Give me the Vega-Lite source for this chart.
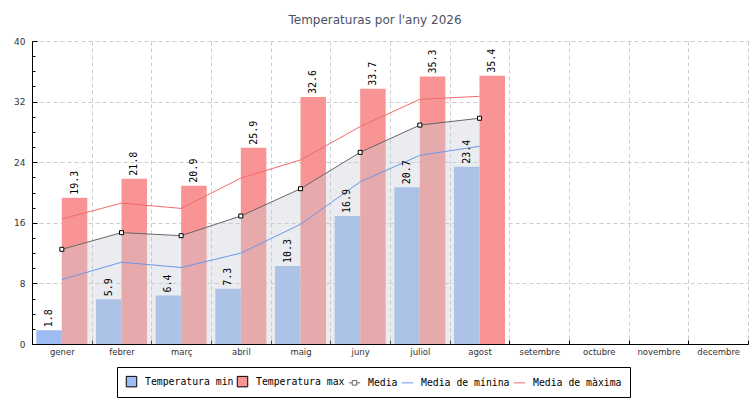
{
  "$schema": "https://vega.github.io/schema/vega-lite/v6.json",
  "description": "Temperatures mensuals: barres de mínima i màxima amb les mitjanes.",
  "width": 716,
  "height": 303,
  "autosize": {"type": "none"},
  "padding": {"left": 32, "top": 41, "right": 2, "bottom": 56},
  "background": "white",
  "title": {
    "text": "Temperaturas por l'any 2026",
    "font": "DejaVu Sans",
    "fontSize": 12,
    "fontWeight": "normal",
    "color": "#4b5166",
    "anchor": "middle",
    "offset": 10,
    "dx": -15
  },
  "config": {
    "view": {"stroke": null},
    "axis": {
      "labelFont": "DejaVu Sans",
      "labelFontSize": 9,
      "labelColor": "#333333",
      "domainColor": "black",
      "tickColor": "black",
      "gridColor": "#cccccc",
      "gridDash": [4, 3]
    }
  },
  "data": {
    "values": [
      {"mes": "gener", "serie": "Temperatura min", "valor": 1.8},
      {"mes": "febrer", "serie": "Temperatura min", "valor": 5.9},
      {"mes": "març", "serie": "Temperatura min", "valor": 6.4},
      {"mes": "abril", "serie": "Temperatura min", "valor": 7.3},
      {"mes": "maig", "serie": "Temperatura min", "valor": 10.3},
      {"mes": "juny", "serie": "Temperatura min", "valor": 16.9},
      {"mes": "juliol", "serie": "Temperatura min", "valor": 20.7},
      {"mes": "agost", "serie": "Temperatura min", "valor": 23.4},
      {"mes": "gener", "serie": "Temperatura max", "valor": 19.3},
      {"mes": "febrer", "serie": "Temperatura max", "valor": 21.8},
      {"mes": "març", "serie": "Temperatura max", "valor": 20.9},
      {"mes": "abril", "serie": "Temperatura max", "valor": 25.9},
      {"mes": "maig", "serie": "Temperatura max", "valor": 32.6},
      {"mes": "juny", "serie": "Temperatura max", "valor": 33.7},
      {"mes": "juliol", "serie": "Temperatura max", "valor": 35.3},
      {"mes": "agost", "serie": "Temperatura max", "valor": 35.4},
      {"mes": "gener", "serie": "Media", "valor": 12.5},
      {"mes": "febrer", "serie": "Media", "valor": 14.7},
      {"mes": "març", "serie": "Media", "valor": 14.3},
      {"mes": "abril", "serie": "Media", "valor": 16.9},
      {"mes": "maig", "serie": "Media", "valor": 20.5},
      {"mes": "juny", "serie": "Media", "valor": 25.3},
      {"mes": "juliol", "serie": "Media", "valor": 28.9},
      {"mes": "agost", "serie": "Media", "valor": 29.8},
      {"mes": "gener", "serie": "Media de mínina", "valor": 8.5},
      {"mes": "febrer", "serie": "Media de mínina", "valor": 10.8},
      {"mes": "març", "serie": "Media de mínina", "valor": 10.1},
      {"mes": "abril", "serie": "Media de mínina", "valor": 12.0},
      {"mes": "maig", "serie": "Media de mínina", "valor": 15.8},
      {"mes": "juny", "serie": "Media de mínina", "valor": 21.4},
      {"mes": "juliol", "serie": "Media de mínina", "valor": 24.9},
      {"mes": "agost", "serie": "Media de mínina", "valor": 26.1},
      {"mes": "gener", "serie": "Media de màxima", "valor": 16.5},
      {"mes": "febrer", "serie": "Media de màxima", "valor": 18.6},
      {"mes": "març", "serie": "Media de màxima", "valor": 17.9},
      {"mes": "abril", "serie": "Media de màxima", "valor": 21.9},
      {"mes": "maig", "serie": "Media de màxima", "valor": 24.3},
      {"mes": "juny", "serie": "Media de màxima", "valor": 28.7},
      {"mes": "juliol", "serie": "Media de màxima", "valor": 32.3},
      {"mes": "agost", "serie": "Media de màxima", "valor": 32.7}
    ]
  },
  "encoding": {
    "x": {
      "field": "mes",
      "type": "nominal",
      "sort": null,
      "scale": {
        "domain": ["gener", "febrer", "març", "abril", "maig", "juny", "juliol", "agost", "setembre", "octubre", "novembre", "decembre"],
        "paddingInner": 0,
        "paddingOuter": 0
      },
      "axis": {
        "title": null,
        "labelAngle": 0,
        "labelFontSize": 8.5,
        "tickBand": "extent",
        "grid": true,
        "tickSize": -4,
        "labelPadding": 7
      }
    },
    "y": {
      "field": "valor",
      "type": "quantitative",
      "scale": {"domain": [0, 40], "nice": false},
      "axis": {
        "title": null,
        "values": [0, 2, 4, 6, 8, 10, 12, 14, 16, 18, 20, 22, 24, 26, 28, 30, 32, 34, 36, 38, 40],
        "labelExpr": "datum.value % 8 === 0 ? datum.label : ''",
        "gridOpacity": {"condition": {"test": "datum.value % 8 === 0 && datum.value > 0", "value": 1}, "value": 0},
        "tickSize": {"condition": {"test": "datum.value % 8 === 0", "value": -5}, "value": -3},
        "labelPadding": 12
      }
    }
  },
  "layer": [
    {
      "transform": [{"filter": "datum.serie === 'Temperatura min' || datum.serie === 'Temperatura max'"}],
      "mark": {"type": "bar", "opacity": 1},
      "encoding": {
        "xOffset": {
          "field": "serie",
          "scale": {"domain": ["Temperatura min", "Temperatura max"], "paddingOuter": 0.17, "paddingInner": 0}
        },
        "fill": {
          "field": "serie",
          "type": "nominal",
          "scale": {
            "domain": ["Temperatura min", "Temperatura max", "Media", "Media de mínina", "Media de màxima"],
            "range": ["#9cbcf2", "#f99494", "white", "transparent", "transparent"]
          },
          "legend": {
            "title": null,
            "orient": "none",
            "legendX": 85,
            "legendY": 326,
            "direction": "horizontal",
            "columns": 5,
            "strokeColor": "black",
            "fillColor": "white",
            "padding": 8,
            "columnPadding": 1,
            "labelOffset": 7,
            "symbolSize": 110,
            "symbolStrokeWidth": 1,
            "labelFont": "DejaVu Sans Mono",
            "labelFontSize": 9.8,
            "labelColor": "black",
            "labelLimit": 300,
            "encoding": {
              "symbols": {
                "shape": {"value": {"expr": "datum.value === 'Media' ? 'M-1,0H-0.4M0.4,0H1M-0.4,-0.4H0.4V0.4H-0.4Z' : (datum.value === 'Temperatura min' || datum.value === 'Temperatura max' ? 'square' : 'stroke')"}},
                "size": {"value": {"expr": "datum.value === 'Temperatura min' || datum.value === 'Temperatura max' ? 110 : 130"}}
              }
            }
          }
        }
      }
    },
    {
      "transform": [{"filter": "datum.serie === 'Media'"}],
      "mark": {"type": "area", "color": "#c8ccd4", "opacity": 0.38},
      "encoding": {}
    },
    {
      "transform": [{"filter": "datum.serie === 'Media' || datum.serie === 'Media de mínina' || datum.serie === 'Media de màxima'"}],
      "mark": {"type": "line", "strokeWidth": 1},
      "encoding": {
        "stroke": {
          "field": "serie",
          "type": "nominal",
          "scale": {
            "domain": ["Temperatura min", "Temperatura max", "Media", "Media de mínina", "Media de màxima"],
            "range": ["black", "black", "#666666", "#6b98ec", "#f26b6b"]
          }
        }
      }
    },
    {
      "transform": [{"filter": "datum.serie === 'Media'"}],
      "mark": {"type": "point", "shape": "square", "filled": false, "fill": "white", "stroke": "black", "strokeWidth": 1, "size": 16, "opacity": 1},
      "encoding": {}
    },
    {
      "transform": [{"filter": "datum.serie === 'Temperatura min' || datum.serie === 'Temperatura max'"}],
      "mark": {"type": "text", "angle": 270, "align": "left", "baseline": "middle", "dx": 3, "font": "DejaVu Sans Mono", "fontSize": 10, "color": "black"},
      "encoding": {
        "xOffset": {"field": "serie"},
        "text": {"field": "valor", "type": "quantitative", "format": ".1f"}
      }
    }
  ]
}
